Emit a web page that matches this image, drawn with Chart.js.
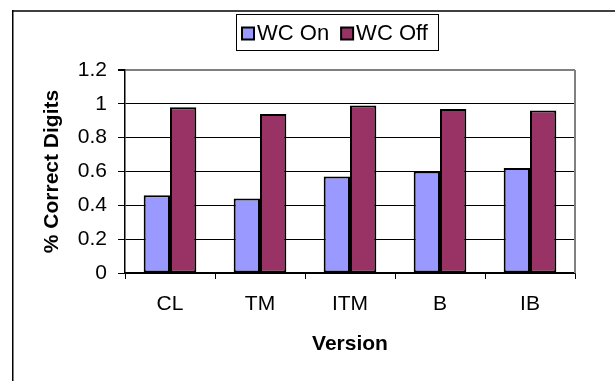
<!DOCTYPE html>
<html>
<head>
<meta charset="utf-8">
<script src="https://cdn.jsdelivr.net/npm/chart.js@4/dist/chart.umd.min.js"></script>
<style>
    html, body { margin: 0; padding: 0; background: #fff; }
    #wrap { position: relative; width: 615px; height: 381px; }
</style>
</head>
<body>
<div id="wrap"><canvas id="myChart"></canvas></div>
<script>
const categories = ['CL', 'TM', 'ITM', 'B', 'IB'];
const wcOn = [0.46, 0.44, 0.57, 0.60, 0.62];
const wcOff = [0.98, 0.94, 0.99, 0.97, 0.96];
const yTickLabels = ['0', '0.2', '0.4', '0.6', '0.8', '1', '1.2'];

const fontFamily = "'Liberation Sans', Arial, sans-serif";

// frame around the whole chart, clipped on the right and bottom
const framePlugin = {
    id: 'frame',
    beforeDraw(chart) {
        const ctx = chart.ctx;
        ctx.save();
        ctx.fillStyle = '#fff';
        ctx.fillRect(0, 0, chart.width, chart.height);
        ctx.fillStyle = '#404040';
        ctx.fillRect(12, 10, chart.width, 2);
        ctx.fillStyle = '#000';
        ctx.fillRect(12, 10, 1.5, chart.height);
        ctx.restore();
    },
    afterDatasetsDraw(chart) {
        // grey right edge of the plot area
        const a = chart.chartArea;
        const ctx = chart.ctx;
        ctx.save();
        ctx.strokeStyle = '#808080';
        ctx.lineWidth = 2;
        ctx.beginPath();
        ctx.moveTo(a.right, a.top);
        ctx.lineTo(a.right, a.bottom);
        ctx.stroke();
        ctx.restore();
    }
};

// boxed legend, drawn by hand so the swatch sits tight to its text
const boxLegend = {
    id: 'boxLegend',
    afterDraw(chart) {
        const ctx = chart.ctx;
        const sets = chart.data.datasets;
        ctx.save();
        ctx.font = '22px ' + fontFamily;
        const sw = 12, gap = 3, between = 12, padL = 6, padR = 10;
        const widths = sets.map(d => ctx.measureText(d.label).width);
        let total = padL + padR + between * (sets.length - 1);
        widths.forEach(w => total += sw + gap + w);
        const cx = 337, top = 14, h = 36;
        const left = Math.round(cx - total / 2);
        ctx.strokeStyle = '#000';
        ctx.lineWidth = 1;
        ctx.strokeRect(left + 0.5, top + 0.5, Math.round(total), h);
        let x = left + padL;
        const midY = top + h / 2 + 1.5;
        sets.forEach((d, i) => {
            ctx.fillStyle = d.backgroundColor;
            ctx.fillRect(x, midY - sw / 2, sw, sw);
            ctx.lineWidth = 2;
            ctx.strokeStyle = '#000';
            ctx.strokeRect(x, midY - sw / 2, sw, sw);
            x += sw + gap;
            ctx.fillStyle = '#000';
            ctx.textBaseline = 'alphabetic';
            ctx.textAlign = 'left';
            ctx.fillText(d.label, x, midY + 6.5);
            x += widths[i] + between;
        });
        ctx.restore();
    }
};

const data = {
    labels: categories,
    datasets: [{
        label: 'WC On',
        data: wcOn,
        backgroundColor: '#9999FF',
        borderColor: '#000',
        borderWidth: 2,
        borderSkipped: false
    }, {
        label: 'WC Off',
        data: wcOff,
        backgroundColor: '#993366',
        borderColor: '#000',
        borderWidth: 2,
        borderSkipped: false
    }]
};

const config = {
    type: 'bar',
    data: data,
    options: {
        responsive: true,
        maintainAspectRatio: false,
        animation: false,
        layout: {
            padding: { top: 70, right: 40, left: 0, bottom: 0 }
        },
        datasets: {
            bar: {
                categoryPercentage: 0.585,
                barPercentage: 1
            }
        },
        scales: {
            x: {
                afterFit: function (scale) { scale.height = 108; },
                grid: {
                    offset: true,
                    drawOnChartArea: false,
                    drawTicks: true,
                    tickLength: 6,
                    color: '#000',
                    tickColor: '#000'
                },
                border: { color: '#000', width: 1.5 },
                ticks: {
                    color: '#000',
                    padding: 13,
                    font: { family: fontFamily, size: 21 }
                },
                title: {
                    display: true,
                    text: 'Version',
                    color: '#000',
                    padding: { top: 0, bottom: 24 },
                    font: { family: fontFamily, size: 21, weight: 'bold' }
                }
            },
            y: {
                min: 0,
                max: 1.2,
                afterFit: function (scale) { scale.width = 125; },
                grid: {
                    color: function (c) {
                        return c.index === yTickLabels.length - 1 ? '#808080' : '#000';
                    },
                    lineWidth: function (c) {
                        return c.index === yTickLabels.length - 1 ? 2 : 1;
                    },
                    tickLength: 7,
                    tickColor: '#000'
                },
                border: { color: '#000', width: 1.5 },
                ticks: {
                    stepSize: 0.2,
                    color: '#000',
                    padding: 11,
                    font: { family: fontFamily, size: 21 },
                    callback: function (value, index) {
                        return yTickLabels[index];
                    }
                },
                title: {
                    display: true,
                    text: '% Correct Digits',
                    color: '#000',
                    padding: { top: 40, bottom: 0 },
                    font: { family: fontFamily, size: 21, weight: 'bold' }
                }
            }
        },
        plugins: {
            legend: { display: false },
            tooltip: { enabled: false }
        }
    },
    plugins: [framePlugin, boxLegend]
};

const myChart = new Chart(
    document.getElementById('myChart'),
    config
);
</script>
</body>
</html>
